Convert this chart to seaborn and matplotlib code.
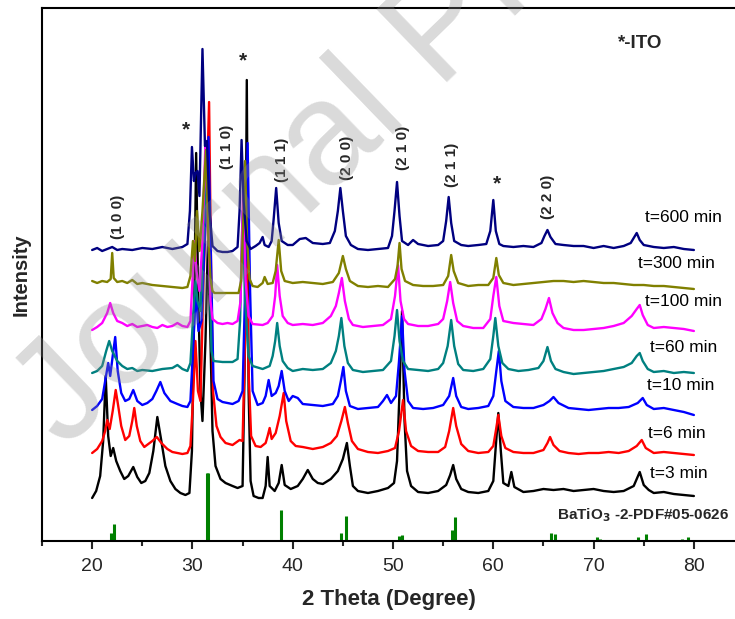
import numpy as np
import pandas as pd
import matplotlib
matplotlib.use("Agg")
import matplotlib.pyplot as plt
import seaborn as sns

# ---- XRD patterns (2θ in degrees, intensity in arbitrary units incl. stacking offset) ----
theta_600 = [20.0, 20.5, 21.0, 21.5, 22.0, 22.5, 23.0, 24.0, 25.0, 26.0, 27.0, 28.0, 29.0, 29.5, 29.75, 29.95,
             30.15, 30.3, 30.5, 30.7, 31.0, 31.25, 31.45, 31.7, 32.0, 32.5, 33.0, 33.5, 34.0, 34.5, 34.7, 34.9,
             35.1, 35.4, 35.8, 36.3, 36.7, 37.0, 37.2, 37.6, 37.9, 38.1, 38.35, 38.6, 38.9, 39.5, 40.0, 40.7,
             41.3, 42.0, 43.0, 43.7, 44.2, 44.5, 44.75, 45.0, 45.3, 45.8, 46.5, 47.5, 48.5, 49.5, 49.9, 50.15,
             50.4, 50.65, 50.9, 51.5, 52.0, 52.5, 53.5, 54.5, 55.0, 55.3, 55.55, 55.8, 56.1, 56.8, 57.5, 58.5,
             59.3, 59.7, 60.0, 60.25, 60.6, 61.0, 62.0, 63.0, 64.0, 64.8, 65.1, 65.4, 65.7, 66.2, 67.0, 68.0,
             69.0, 70.0, 71.0, 72.0, 73.0, 73.7, 74.0, 74.3, 74.6, 75.0, 76.0, 77.0, 78.0, 79.0, 80.0]
counts_600 = [291, 293, 290, 292, 294, 291, 292, 291, 293, 292, 294, 292, 294, 297, 330, 394,
              360, 368, 370, 345, 492, 395, 400, 330, 295, 290, 289, 289, 290, 294, 330, 401,
              340, 300, 292, 295, 298, 304, 296, 294, 300, 322, 353, 318, 300, 296, 296, 302,
              303, 298, 297, 298, 310, 330, 353, 330, 305, 296, 292, 291, 292, 293, 305, 330,
              359, 325, 300, 296, 301, 297, 295, 296, 300, 320, 344, 318, 300, 296, 295, 296,
              297, 310, 341, 310, 297, 295, 294, 295, 294, 298, 305, 311, 304, 297, 296, 295,
              295, 293, 295, 293, 295, 298, 303, 308, 301, 296, 294, 293, 294, 292, 291]

theta_300 = [20.0, 20.5, 21.0, 21.5, 21.85, 22.0, 22.15, 22.5, 23.0, 23.5, 24.0, 24.5, 25.0, 25.5, 26.0, 27.0,
             28.0, 29.0, 29.5, 29.8, 30.05, 30.25, 30.45, 30.7, 31.0, 31.35, 31.6, 31.8, 32.0, 32.2, 34.6, 34.85,
             35.1, 35.25, 35.45, 35.7, 36.0, 36.5, 37.0, 37.2, 37.5, 38.0, 38.3, 38.6, 38.85, 39.2, 40.0, 41.0,
             42.0, 43.0, 44.0, 44.6, 45.0, 45.3, 45.7, 46.5, 47.5, 48.5, 49.5, 50.2, 50.45, 50.65, 50.85, 51.2,
             52.0, 53.0, 54.0, 55.0, 55.5, 55.8, 56.05, 56.5, 57.5, 58.5, 59.5, 60.0, 60.3, 60.55, 61.0, 62.0,
             63.0, 64.0, 65.0, 66.0, 67.0, 68.0, 69.0, 70.0, 71.0, 72.0, 73.0, 74.0, 75.0, 76.0, 77.0, 78.0,
             79.0, 80.0]
counts_300 = [260, 258, 260, 259, 262, 288, 263, 259, 260, 258, 261, 257, 258, 257, 256, 255,
              254, 253, 254, 265, 300, 280, 330, 290, 330, 391, 300, 262, 250, 248, 248, 260,
              330, 380, 300, 262, 255, 254, 258, 264, 257, 258, 270, 301, 270, 260, 258, 259,
              258, 257, 259, 268, 285, 272, 260, 255, 254, 255, 254, 262, 275, 298, 272, 260,
              256, 255, 255, 256, 265, 286, 270, 258, 255, 256, 256, 263, 283, 266, 258, 256,
              257, 258, 259, 260, 260, 259, 260, 259, 258, 258, 257, 256, 256, 255, 255, 254,
              253, 252]

theta_100 = [20.0, 20.5, 21.0, 21.5, 21.8, 22.1, 22.5, 23.0, 23.5, 24.0, 24.5, 25.0, 25.5, 26.0, 26.5, 27.0,
             27.5, 28.0, 28.5, 29.0, 29.5, 29.8, 30.0, 30.2, 30.4, 30.7, 31.0, 31.3, 31.55, 31.8, 32.0, 32.5,
             33.0, 33.5, 34.0, 34.5, 34.8, 35.05, 35.3, 35.6, 36.0, 37.0, 37.5, 38.0, 38.25, 38.45, 38.7, 39.0,
             39.5, 40.0, 41.0, 42.0, 43.0, 43.8, 44.3, 44.6, 44.9, 45.2, 45.6, 46.0, 47.0, 48.0, 49.0, 49.8,
             50.2, 50.5, 50.75, 51.1, 51.5, 52.5, 53.5, 54.5, 55.0, 55.4, 55.7, 56.0, 56.4, 57.0, 58.0, 59.0,
             59.7, 60.0, 60.3, 60.6, 61.0, 62.0, 63.0, 64.0, 64.8, 65.2, 65.55, 65.9, 66.4, 67.0, 68.0, 69.0,
             70.0, 71.0, 72.0, 73.0, 73.8, 74.3, 74.6, 74.9, 75.4, 76.0, 77.0, 78.0, 79.0, 80.0]
counts_100 = [211, 214, 218, 228, 238, 228, 220, 218, 215, 217, 214, 215, 216, 214, 213, 216,
              214, 215, 218, 215, 214, 220, 260, 300, 270, 250, 300, 400, 320, 240, 222, 218,
              217, 218, 217, 220, 240, 350, 260, 225, 217, 216, 218, 225, 245, 276, 245, 225,
              218, 216, 217, 216, 218, 225, 235, 248, 263, 240, 222, 216, 214, 215, 216, 222,
              245, 276, 240, 222, 217, 215, 215, 217, 222, 240, 259, 238, 220, 215, 213, 213,
              222, 245, 264, 235, 220, 218, 217, 216, 222, 232, 243, 228, 218, 213, 211, 211,
              212, 213, 215, 218, 225, 232, 236, 226, 216, 213, 214, 213, 212, 210]

theta_60 = [20.0, 20.5, 21.0, 21.4, 21.7, 22.0, 22.5, 23.0, 23.5, 24.0, 24.5, 25.0, 26.0, 27.0, 28.0, 28.5,
            29.0, 29.5, 29.8, 30.1, 30.3, 30.5, 30.8, 31.2, 31.45, 31.7, 31.9, 32.1, 33.0, 34.0, 34.5, 34.75,
            35.0, 35.25, 35.6, 36.0, 37.0, 37.7, 38.0, 38.25, 38.45, 38.7, 39.0, 39.5, 40.0, 41.0, 42.0, 43.0,
            43.8, 44.3, 44.6, 44.85, 45.15, 45.5, 46.0, 47.0, 48.0, 49.0, 49.8, 50.15, 50.4, 50.65, 51.0, 51.5,
            52.5, 53.5, 54.5, 55.0, 55.45, 55.8, 56.1, 56.5, 57.0, 58.0, 59.0, 59.7, 60.0, 60.2, 60.5, 60.9,
            61.5, 62.5, 63.5, 64.5, 65.0, 65.4, 65.75, 66.2, 67.0, 68.0, 69.0, 70.0, 71.0, 72.0, 73.0, 73.8,
            74.3, 74.6, 74.9, 75.4, 76.0, 77.0, 78.0, 79.0, 80.0]
counts_60 = [168, 170, 175, 190, 200, 190, 180, 175, 172, 173, 170, 171, 170, 172, 173, 176,
             172, 170, 178, 230, 260, 240, 230, 330, 360, 270, 190, 180, 179, 179, 182, 220,
             330, 240, 185, 175, 172, 175, 185, 200, 218, 195, 180, 173, 170, 172, 171, 172,
             178, 190, 205, 223, 195, 178, 171, 169, 170, 171, 180, 205, 231, 200, 180, 172,
             171, 170, 172, 178, 195, 221, 195, 177, 171, 170, 172, 182, 205, 223, 195, 178,
             172, 170, 171, 173, 180, 194, 180, 172, 169, 167, 168, 169, 170, 172, 174, 178,
             185, 188, 180, 172, 169, 170, 168, 169, 168]

theta_10 = [20.0, 20.5, 21.0, 21.3, 21.6, 21.8, 22.05, 22.3, 22.55, 22.9, 23.3, 23.7, 24.1, 24.5, 25.0, 25.5,
            26.0, 26.4, 26.8, 27.2, 27.8, 28.5, 29.0, 29.5, 29.8, 30.1, 30.35, 30.6, 30.9, 31.3, 31.6, 31.85,
            32.1, 32.5, 33.0, 33.5, 34.0, 34.6, 35.0, 35.25, 35.5, 35.75, 36.0, 36.5, 37.0, 37.3, 37.6, 37.9,
            38.3, 38.6, 38.9, 39.2, 39.6, 40.0, 40.5, 41.0, 42.0, 43.0, 44.0, 44.5, 44.8, 45.05, 45.3, 45.7,
            46.5, 47.5, 48.5, 49.0, 49.4, 49.8, 50.3, 50.6, 50.9, 51.15, 51.5, 52.0, 53.0, 54.0, 55.0, 55.6,
            56.0, 56.3, 56.8, 57.5, 58.5, 59.5, 60.0, 60.3, 60.55, 60.8, 61.2, 62.0, 63.0, 64.0, 65.0, 65.6,
            66.0, 66.5, 67.5, 68.5, 69.5, 70.5, 71.5, 72.5, 73.5, 74.4, 74.9, 75.3, 76.0, 77.0, 78.0, 79.0,
            80.0]
counts_10 = [131, 135, 142, 160, 178, 165, 185, 204, 170, 148, 140, 142, 151, 140, 136, 138,
             142, 150, 159, 148, 140, 137, 135, 134, 140, 200, 250, 210, 220, 320, 404, 280,
             160, 142, 139, 138, 137, 140, 150, 250, 398, 250, 150, 136, 138, 145, 161, 145,
             148, 155, 170, 150, 140, 145, 143, 137, 136, 135, 137, 145, 160, 174, 150, 135,
             132, 133, 134, 140, 146, 138, 145, 180, 225, 170, 140, 133, 132, 133, 136, 145,
             163, 145, 134, 132, 133, 135, 145, 170, 190, 160, 140, 134, 133, 133, 136, 140,
             144, 138, 133, 132, 131, 132, 133, 133, 134, 138, 143, 136, 132, 133, 131, 129,
             126]

theta_6 = [20.0, 20.5, 21.0, 21.3, 21.5, 21.75, 22.05, 22.35, 22.6, 22.9, 23.3, 23.7, 24.0, 24.2, 24.45, 24.8,
           25.2, 25.6, 26.0, 26.45, 26.9, 27.5, 28.0, 28.5, 29.0, 29.5, 29.8, 30.05, 30.3, 30.55, 30.8, 31.1,
           31.45, 31.66, 31.85, 32.05, 32.4, 32.8, 33.3, 34.0, 34.7, 35.0, 35.2, 35.4, 35.6, 35.85, 36.3, 36.8,
           37.3, 37.5, 37.7, 37.9, 38.3, 38.7, 39.1, 39.35, 39.8, 40.3, 41.0, 42.0, 43.0, 43.8, 44.4, 44.85,
           45.2, 45.5, 45.9, 46.5, 47.5, 48.5, 49.5, 50.2, 50.6, 51.0, 51.3, 51.8, 52.5, 53.5, 54.5, 55.2,
           55.6, 56.0, 56.3, 56.8, 57.5, 58.5, 59.5, 60.0, 60.25, 60.5, 60.8, 61.2, 62.0, 63.0, 64.0, 65.0,
           65.4, 65.66, 66.0, 66.6, 67.5, 68.5, 69.5, 70.5, 71.5, 72.5, 73.5, 74.3, 74.8, 75.2, 76.0, 77.0,
           78.0, 79.0, 80.0]
counts_6 = [88, 92, 100, 110, 121, 112, 130, 151, 135, 115, 101, 105, 120, 133, 115, 100,
            94, 97, 100, 104, 98, 92, 89, 88, 87, 88, 95, 140, 200, 150, 140, 260,
            360, 439, 280, 150, 115, 104, 98, 96, 101, 100, 180, 300, 170, 105, 95, 94,
            98, 105, 113, 102, 108, 125, 148, 120, 100, 95, 94, 92, 94, 98, 105, 120,
            134, 118, 100, 92, 89, 88, 90, 93, 110, 141, 110, 95, 90, 89, 89, 94,
            110, 133, 115, 97, 90, 88, 89, 95, 110, 126, 105, 93, 89, 88, 88, 91,
            98, 104, 96, 90, 88, 87, 88, 88, 89, 88, 90, 95, 101, 93, 88, 89,
            88, 87, 86]

theta_3 = [20.0, 20.4, 20.8, 21.1, 21.35, 21.6, 21.85, 22.1, 22.4, 22.8, 23.2, 23.6, 24.1, 24.5, 24.9, 25.3,
           25.7, 26.1, 26.5, 26.9, 27.3, 27.8, 28.3, 28.8, 29.3, 29.7, 29.95, 30.2, 30.37, 30.55, 30.8, 31.0,
           31.3, 31.55, 31.8, 32.0, 32.3, 32.8, 33.3, 34.0, 34.5, 35.0, 35.25, 35.42, 35.6, 35.8, 36.1, 36.6,
           37.0, 37.3, 37.5, 37.7, 38.2, 38.6, 38.9, 39.2, 39.8, 40.5, 41.0, 41.5, 42.0, 42.5, 43.0, 43.8,
           44.5, 45.0, 45.4, 45.7, 46.0, 46.5, 47.5, 48.5, 49.5, 50.1, 50.4, 50.65, 50.9, 51.15, 51.4, 51.8,
           52.5, 53.5, 54.5, 55.3, 55.7, 56.0, 56.3, 56.8, 57.5, 58.5, 59.5, 60.0, 60.25, 60.5, 60.75, 61.0,
           61.5, 61.8, 62.1, 63.0, 64.0, 65.0, 66.0, 67.0, 68.0, 69.0, 70.0, 71.0, 72.0, 73.0, 74.0, 74.6,
           75.0, 75.5, 76.0, 77.0, 78.0, 79.0, 80.0]
counts_3 = [43, 50, 65, 100, 165, 105, 85, 93, 80, 70, 62, 65, 74, 64, 58, 60,
            68, 90, 124, 100, 75, 60, 52, 48, 46, 48, 90, 250, 388, 260, 150, 120,
            200, 300, 200, 110, 75, 62, 58, 55, 53, 55, 200, 461, 150, 60, 45, 43,
            43, 55, 84, 55, 50, 58, 76, 56, 52, 55, 62, 71, 62, 58, 57, 62,
            70, 82, 98, 75, 55, 50, 48, 50, 53, 58, 80, 150, 230, 120, 70, 55,
            49, 48, 50, 56, 66, 76, 62, 52, 49, 48, 50, 60, 95, 128, 90, 58,
            55, 69, 54, 49, 50, 52, 51, 52, 50, 51, 52, 50, 49, 50, 55, 69,
            56, 51, 48, 49, 47, 46, 45]

# ---- BaTiO3 reference card (PDF#05-0626) stick pattern ----
ref_theta = [21.9, 22.2, 31.45, 31.6, 38.85, 44.8, 45.35, 50.6, 50.9, 55.9, 56.2,
             65.8, 66.2, 70.3, 70.6, 74.4, 75.2, 78.8, 79.4]
ref_height = [8, 17, 68, 68, 31, 8, 25, 5, 6, 11, 24, 8, 7, 4, 2, 4, 7, 2, 4]

series_labels = ["t=3 min", "t=6 min", "t=10 min", "t=60 min", "t=100 min", "t=300 min", "t=600 min"]
series_colors = ["#000000", "#FF0000", "#0000FF", "#008080", "#FF00FF", "#808000", "#000080"]
label_pos = [(75.6, 68), (75.4, 108), (75.3, 155), (75.6, 193), (75.1, 239), (74.4, 277), (75.1, 323)]

# Miller indices and ITO markers
hkl_labels = ["(1 0 0)", "(1 1 0)", "(1 1 1)", "(2 0 0)", "(2 1 0)", "(2 1 1)", "(2 2 0)"]
hkl_pos = [(22.6, 324), (33.4, 394), (38.9, 381), (45.4, 383), (51.0, 393), (55.85, 376), (65.5, 344)]
ito_pos = [(29.4, 411), (35.0, 480), (60.4, 357)]

# ---- assemble long-form table ----
thetas = [theta_3, theta_6, theta_10, theta_60, theta_100, theta_300, theta_600]
counts = [counts_3, counts_6, counts_10, counts_60, counts_100, counts_300, counts_600]
frames = [pd.DataFrame({"theta": t, "intensity": c, "sample": lab})
          for t, c, lab in zip(thetas, counts, series_labels)]
df = pd.concat(frames, ignore_index=True)

sns.set_theme(style="white")
plt.rcParams["font.family"] = ["Liberation Sans", "DejaVu Sans"]

fig = plt.figure(figsize=(7.35, 6.19), dpi=100)
ax = fig.add_axes([42 / 735, 78 / 619, 1 - 42 / 735, 533 / 619])

sns.lineplot(data=df, x="theta", y="intensity", hue="sample", hue_order=series_labels,
             palette=dict(zip(series_labels, series_colors)), estimator=None, sort=False,
             linewidth=1.7, legend=False, ax=ax)

ax.vlines(ref_theta, 0, ref_height, colors="#008000", linewidth=2.2)

for lab, (x, y) in zip(series_labels, label_pos):
    ax.text(x, y, lab, fontsize=12.5, color="black", ha="left", va="center")

for lab, (x, y) in zip(hkl_labels, hkl_pos):
    ax.text(x, y, lab, fontsize=11, fontweight="bold", rotation=90, ha="center", va="center")

for x, y in ito_pos:
    ax.text(x, y, "*", fontsize=15, fontweight="bold", ha="center", va="center")

ax.text(72.4, 497, "*-ITO", fontsize=13.5, fontweight="bold", ha="left", va="center")
ax.text(66.4, 26, r"BaTiO$_\mathbf{3}$ -2-PDF#05-0626", fontsize=11, fontweight="bold",
        ha="left", va="center")

ax.set_xlim(15, 84.1)
ax.set_ylim(0, 533)
ax.set_xticks([20, 30, 40, 50, 60, 70, 80])
ax.set_xticks(np.arange(15, 85, 5), minor=True)
ax.set_yticks([])
ax.tick_params(axis="x", which="major", direction="out", length=6, width=1.5, labelsize=14,
               bottom=True, pad=6)
ax.tick_params(axis="x", which="minor", direction="out", length=3.5, width=1.5, bottom=True)
ax.set_xlabel("2 Theta (Degree)", fontsize=16, fontweight="bold", labelpad=10)
ax.set_ylabel("Intensity", fontsize=14.5, fontweight="bold", labelpad=8)
for side in ["left", "bottom", "top"]:
    ax.spines[side].set_visible(True)
    ax.spines[side].set_linewidth(1.5)
    ax.spines[side].set_color("black")
ax.spines["right"].set_visible(False)

# page watermark
fig.text(65 / 735, 1 - 450 / 619, "Journal Pre-proof", fontsize=105, color=(0.55, 0.55, 0.55),
         alpha=0.32, rotation=44, rotation_mode="anchor", ha="left", va="baseline", zorder=10)

fig.savefig("out.png", dpi=100)
